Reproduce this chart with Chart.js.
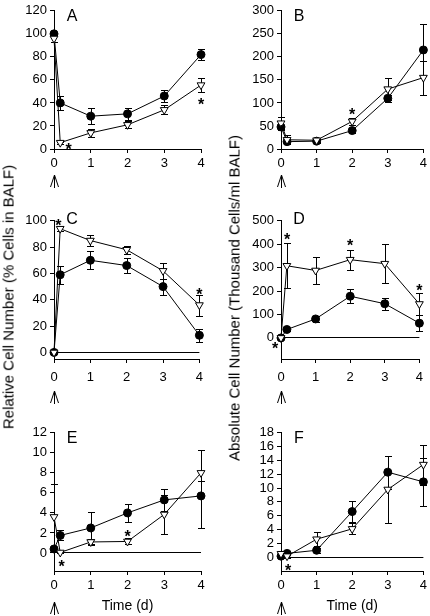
<!DOCTYPE html>
<html>
<head>
<meta charset="utf-8">
<script src="https://cdn.jsdelivr.net/npm/chart.js@4.4.0/dist/chart.umd.min.js"></script>
<style>
  body { margin: 0; background: #fff; width: 430px; height: 616px; position: relative; overflow: hidden;
         font-family: "Liberation Sans", Arial, sans-serif; }
  canvas { position: absolute; }
  .ytitle { position: absolute; transform: translate(-50%, -50%) rotate(-90deg); white-space: nowrap;
            font-size: 15px; color: #000; }
</style>
</head>
<body>
<canvas id="pA" width="210" height="205" style="left:0;top:0"></canvas>
<canvas id="pB" width="215" height="205" style="left:215px;top:0"></canvas>
<canvas id="pC" width="210" height="205" style="left:0;top:210px"></canvas>
<canvas id="pD" width="215" height="205" style="left:215px;top:210px"></canvas>
<canvas id="pE" width="210" height="194" style="left:0;top:422px"></canvas>
<canvas id="pF" width="215" height="194" style="left:215px;top:422px"></canvas>
<div class="ytitle" style="left:8px;top:297px">Relative Cell Number (% Cells in BALF)</div>
<div class="ytitle" style="left:234px;top:298px">Absolute Cell Number (Thousand Cells/ml BALF)</div>
<script>
// time points (days)
const days = [0, 0.17, 1, 2, 3, 4];
const xTicks = [0, 1, 2, 3, 4];

// filled circles / open triangles, errors are +/- (or [down, up])
const aFilled = [100, 40, 28.5, 30.5, 46, 82];
const aFilledErr = [0, 6, 7, 5.5, 5.5, 4.5];
const aOpen = [96, 5.5, 14, 21, 34, 55.5];
const aOpenErr = [3, 1, 3.5, 3, 4, 6];
const aStars = [[0.4, 2.5], [4, 42]];
const aTicks = [0, 20, 40, 60, 80, 100, 120];

const bFilled = [48, 16, 17, 40, 110, 215];
const bFilledErr = [5, 4, 3, 5, 8, 56];
const bOpen = [56, 20, 19, 60, 130, 155];
const bOpenErr = [14, 10, 3, 8, 24, 37];
const bStars = [[0, 46], [2, 82]];
const bTicks = [0, 50, 100, 150, 200, 250, 300];

const cFilled = [0, 59, 70, 66, 50, 13];
const cFilledErr = [0, 7, 7, 6, 6, 5];
const cOpen = [0, 94, 85, 78, 62, 36];
const cOpenErr = [0, 2, 4, 3, 6, 8];
const cStars = [[0.12, 99], [4, 47]];
const cTicks = [0, 20, 40, 60, 80, 100];

const dFilled = [0, 36, 81, 178, 146, 63];
const dFilledErr = [0, 5, 12, 30, 25, 35];
const dOpen = [0, 308, 288, 334, 317, 145];
const dOpenErr = [0, 97, 58, 43, 82, 48];
const dStars = [[0.18, 437], [2, 409], [4, 219], [-0.17, -32]];
const dTicks = [0, 100, 200, 300, 400, 500];

const eFilled = [0.4, 1.75, 2.5, 4.0, 5.3, 5.7];
const eFilledErr = [0.2, 0.5, 1.6, 0.9, 1.1, [3.25, 1.45]];
const eOpen = [3.6, 0.05, 1.1, 1.15, 3.85, 8.0];
const eOpenErr = [3.3, 0.1, 0.3, 0.3, 1.95, 2.3];
const eStars = [[0.21, -1.05], [2, 1.95]];
const eTicks = [0, 2, 4, 6, 8, 10, 12];

const fFilled = [0.15, 0.55, 1.0, 6.6, 12.3, 10.9];
const fFilledErr = [0.2, 0.3, 0.4, 1.5, 2.4, 3.5];
const fOpen = [0.5, 0.15, 2.6, 4.1, 9.8, 13.4];
const fOpenErr = [0.4, 0.2, 1.0, 0.8, 4.8, 2.9];
const fStars = [[0.2, -1.35]];
const fTicks = [0, 2, 4, 6, 8, 10, 12, 14, 16, 18];

const fontFam = '"Liberation Sans", Arial, sans-serif';
Chart.defaults.font.family = fontFam;
Chart.defaults.color = '#000';

// error bars, asterisks, panel letter and the arrow under day 0
const panelExtras = {
  id: 'panelExtras',
  beforeDatasetsDraw(chart) {
    const {ctx, scales: {x, y}} = chart;
    ctx.save();
    ctx.strokeStyle = '#000';
    ctx.lineWidth = 1;
    chart.data.datasets.forEach(ds => {
      ds.errors.forEach((e, i) => {
        if (!e) return;
        const lo = Array.isArray(e) ? e[0] : e;
        const hi = Array.isArray(e) ? e[1] : e;
        const p = ds.data[i];
        const px = Math.round(x.getPixelForValue(p.x)) + 0.5;
        const yTop = Math.round(y.getPixelForValue(p.y + hi)) + 0.5;
        const yBot = Math.round(y.getPixelForValue(p.y - lo)) + 0.5;
        ctx.beginPath();
        ctx.moveTo(px, yTop); ctx.lineTo(px, yBot);
        ctx.moveTo(px - 3.5, yTop); ctx.lineTo(px + 3.5, yTop);
        ctx.moveTo(px - 3.5, yBot); ctx.lineTo(px + 3.5, yBot);
        ctx.stroke();
      });
    });
    ctx.restore();
  },
  afterDraw(chart, args, opts) {
    const {ctx, chartArea, scales: {x, y}} = chart;
    ctx.save();
    ctx.fillStyle = '#000';
    ctx.strokeStyle = '#000';
    ctx.lineWidth = 1;
    // asterisks
    ctx.font = 'bold 16px ' + fontFam;
    ctx.textAlign = 'center';
    ctx.textBaseline = 'alphabetic';
    opts.stars.forEach(s => {
      ctx.fillText('*', x.getPixelForValue(s[0]), y.getPixelForValue(s[1]) + 9);
    });
    // panel letter
    ctx.font = '16px ' + fontFam;
    ctx.textBaseline = 'middle';
    ctx.fillText(opts.letter, chartArea.left + opts.letterDx, chartArea.top + opts.letterDy);
    // arrow at time 0
    const x0 = Math.round(x.getPixelForValue(0)) + 0.5;
    const top = chartArea.bottom + opts.arrowTop;
    ctx.beginPath();
    ctx.moveTo(x0, top); ctx.lineTo(x0, top + 13);
    ctx.moveTo(x0 - 4, top + 12); ctx.lineTo(x0, top); ctx.lineTo(x0 + 4, top + 12);
    ctx.stroke();
    ctx.restore();
  }
};

function makePanel(id, p) {
  const canvas = document.getElementById(id);
  const H = canvas.height;
  const tickFont = {size: 13, family: fontFam};
  return new Chart(canvas, {
    type: 'line',
    data: {
      datasets: [
        {
          data: days.map((d, i) => ({x: d, y: p.open[i]})),
          errors: p.openErr,
          borderColor: '#000', borderWidth: 1,
          pointStyle: 'triangle', rotation: 180, pointRadius: 4.5,
          pointBackgroundColor: '#fff', pointBorderColor: '#000', pointBorderWidth: 1,
          clip: false
        },
        {
          data: days.map((d, i) => ({x: d, y: p.filled[i]})),
          errors: p.filledErr,
          borderColor: '#000', borderWidth: 1,
          pointStyle: 'circle', pointRadius: 4,
          pointBackgroundColor: '#000', pointBorderColor: '#000', pointBorderWidth: 1,
          clip: false
        }
      ]
    },
    options: {
      responsive: false,
      animation: false,
      events: [],
      layout: {padding: {top: 7, right: p.padRight, left: 0, bottom: 0}},
      plugins: {
        legend: {display: false},
        tooltip: {enabled: false},
        panelExtras: {stars: p.stars, letter: p.letter, letterDx: 18, letterDy: p.letterDy, arrowTop: p.arrowTop}
      },
      scales: {
        x: {
          type: 'linear', min: 0, max: 4,
          afterBuildTicks: s => { s.ticks = xTicks.map(v => ({value: v})); },
          ticks: {autoSkip: false, font: tickFont, color: '#000', padding: p.xPad, maxRotation: 0},
          grid: {drawOnChartArea: false, color: '#000', tickLength: 4},
          border: {color: '#000'},
          title: {display: !!p.xTitle, text: p.xTitle || '', font: {size: 14, family: fontFam}, color: '#000',
                  padding: {top: 0, bottom: 1}},
          afterFit: s => { s.height = H - 149; }
        },
        y: {
          min: p.min, max: p.max,
          afterBuildTicks: s => { s.ticks = p.ticks.map(v => ({value: v})); },
          ticks: {autoSkip: false, font: tickFont, color: '#000', padding: 3},
          grid: {
            color: c => (c.tick && c.tick.value === 0) ? '#000' : 'rgba(0,0,0,0)',
            tickColor: '#000', tickLength: 4
          },
          border: {color: '#000'},
          afterFit: s => { s.width = p.yWidth; }
        }
      }
    },
    plugins: [panelExtras]
  });
}

const leftCol = {yWidth: 54, padRight: 9};
const rightCol = {yWidth: 66, padRight: 6};

makePanel('pA', Object.assign({}, leftCol, {filled: aFilled, filledErr: aFilledErr, open: aOpen, openErr: aOpenErr,
  stars: aStars, ticks: aTicks, letter: 'A', letterDy: 6, min: 0, max: 120, xPad: 3, arrowTop: 26}));
makePanel('pB', Object.assign({}, rightCol, {filled: bFilled, filledErr: bFilledErr, open: bOpen, openErr: bOpenErr,
  stars: bStars, ticks: bTicks, letter: 'B', letterDy: 6, min: 0, max: 300, xPad: 3, arrowTop: 26}));
makePanel('pC', Object.assign({}, leftCol, {filled: cFilled, filledErr: cFilledErr, open: cOpen, openErr: cOpenErr,
  stars: cStars, ticks: cTicks, letter: 'C', letterDy: -1, min: -5, max: 100, xPad: 7, arrowTop: 32}));
makePanel('pD', Object.assign({}, rightCol, {filled: dFilled, filledErr: dFilledErr, open: dOpen, openErr: dOpenErr,
  stars: dStars, ticks: dTicks, letter: 'D', letterDy: -1, min: -90, max: 500, xPad: 7, arrowTop: 32}));
makePanel('pE', Object.assign({}, leftCol, {filled: eFilled, filledErr: eFilledErr, open: eOpen, openErr: eOpenErr,
  stars: eStars, ticks: eTicks, letter: 'E', letterDy: 6, min: -1.8, max: 12, xPad: 3, arrowTop: 31, xTitle: 'Time (d)'}));
makePanel('pF', Object.assign({}, rightCol, {filled: fFilled, filledErr: fFilledErr, open: fOpen, openErr: fOpenErr,
  stars: fStars, ticks: fTicks, letter: 'F', letterDy: 6, min: -2, max: 18, xPad: 3, arrowTop: 31, xTitle: 'Time (d)'}));
</script>
</body>
</html>
